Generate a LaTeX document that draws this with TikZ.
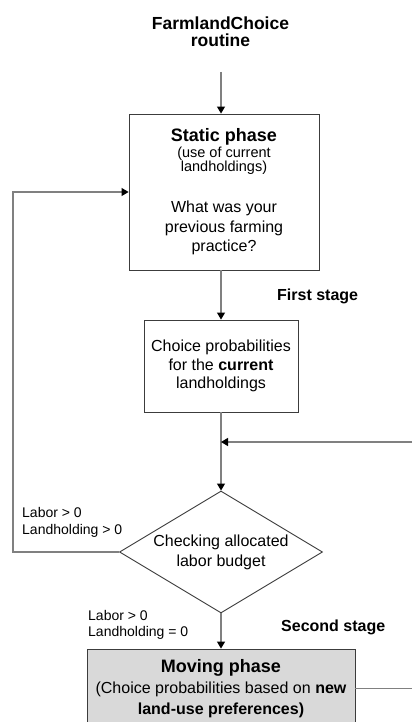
\documentclass[tikz,border=0pt]{standalone}
\usepackage{fontspec}
\setmainfont{Liberation Sans}
\usetikzlibrary{arrows.meta,positioning,shapes.geometric}
\definecolor{pline}{HTML}{3C3C3C}
\definecolor{pconn}{HTML}{808080}
\definecolor{pgray}{HTML}{D9D9D9}
\newcommand{\fs}[2]{\fontsize{#1bp}{#2bp}\selectfont}
\tikzset{
  % plain boxes and the decision diamond
  box/.style   = {rectangle, draw=pline, fill=#1, line width=0.9bp, align=center,
                  inner sep=2bp, font=\fs{16}{19.5}},
  box/.default = white,
  dec/.style   = {diamond, draw=pline, fill=white, line width=0.9bp, align=center,
                  inner sep=1bp, shape aspect=1.66, font=\fs{16}{20}},
  arr/.style   = {-{Triangle[length=7bp,width=8bp,black]}, line width=1.2bp, pconn},
  lane/.style  = {line width=1.2bp, pconn},
  tag/.style   = {font=\fs{14}{16.5}, align=left, inner sep=0pt},
  stage/.style = {font=\fs{16}{19}\bfseries, inner sep=0pt},
}

\begin{document}
\begin{tikzpicture}[x=1bp,y=-1bp]
\clip (0,0) rectangle (412,722);
% title and entry
\node[font=\fs{17.5}{16.7}\bfseries, align=center] (title) at (220.5,32) {FarmlandChoice\\routine};
\coordinate (entry) at (221,72);
% first stage
\node[box, minimum width=190bp, minimum height=156bp] (static) at (224,192)
      {{\fs{18}{19.5}\bfseries Static phase}\\[-3.5bp]
       {\fs{14.5}{14}(use of current}\\[-5.5bp]
       {\fs{14.5}{14}landholdings)}\\[21.5bp]
       What was your\\previous farming\\practice?};
\node[box, minimum width=154bp, minimum height=92bp, font=\fs{16}{18.5}] (choice) at (221,366)
      {Choice probabilities\\for the \textbf{current}\\landholdings};
\node[dec, minimum width=203bp, minimum height=122bp] (check) at (221,552)
      {Checking allocated\\labor budget};
% second stage
\node[box=pgray, minimum width=268bp, minimum height=79bp, font=\fs{16}{21}] (moving) at (221,688.5)
      {{\fs{18}{21}\bfseries Moving phase}\\
       (Choice probabilities based on \textbf{new}\\
       \textbf{land-use preferences)}};
% labels
\node[stage, anchor=base west] (first) at (277,300.5) {First stage};
\node[stage, anchor=base west] (second) at (281,631) {Second stage};
\node[tag, anchor=west] (stay) at (22,522.6) {Labor > 0\\Landholding > 0};
\node[tag, anchor=west] (move) at (88,625) {Labor > 0\\Landholding = 0};
% connectors
\coordinate (join) at (221,442);
\coordinate (rin) at (412,442);
\coordinate (rout) at (412,688.5);
\coordinate (loopx) at (13,0);
\draw[arr] (entry) -- (entry |- static.north);
\draw[arr] (static.south -| choice.north) -- (choice.north);
\draw[arr] (choice) -- (check);
\draw[arr] (rin) -- (join);
\draw[arr] (check.west) -- (check.west -| loopx) |- (static.west);
\draw[arr] (check) -- (moving);
\draw[lane] (moving.east) -- (rout);
\end{tikzpicture}
\end{document}
